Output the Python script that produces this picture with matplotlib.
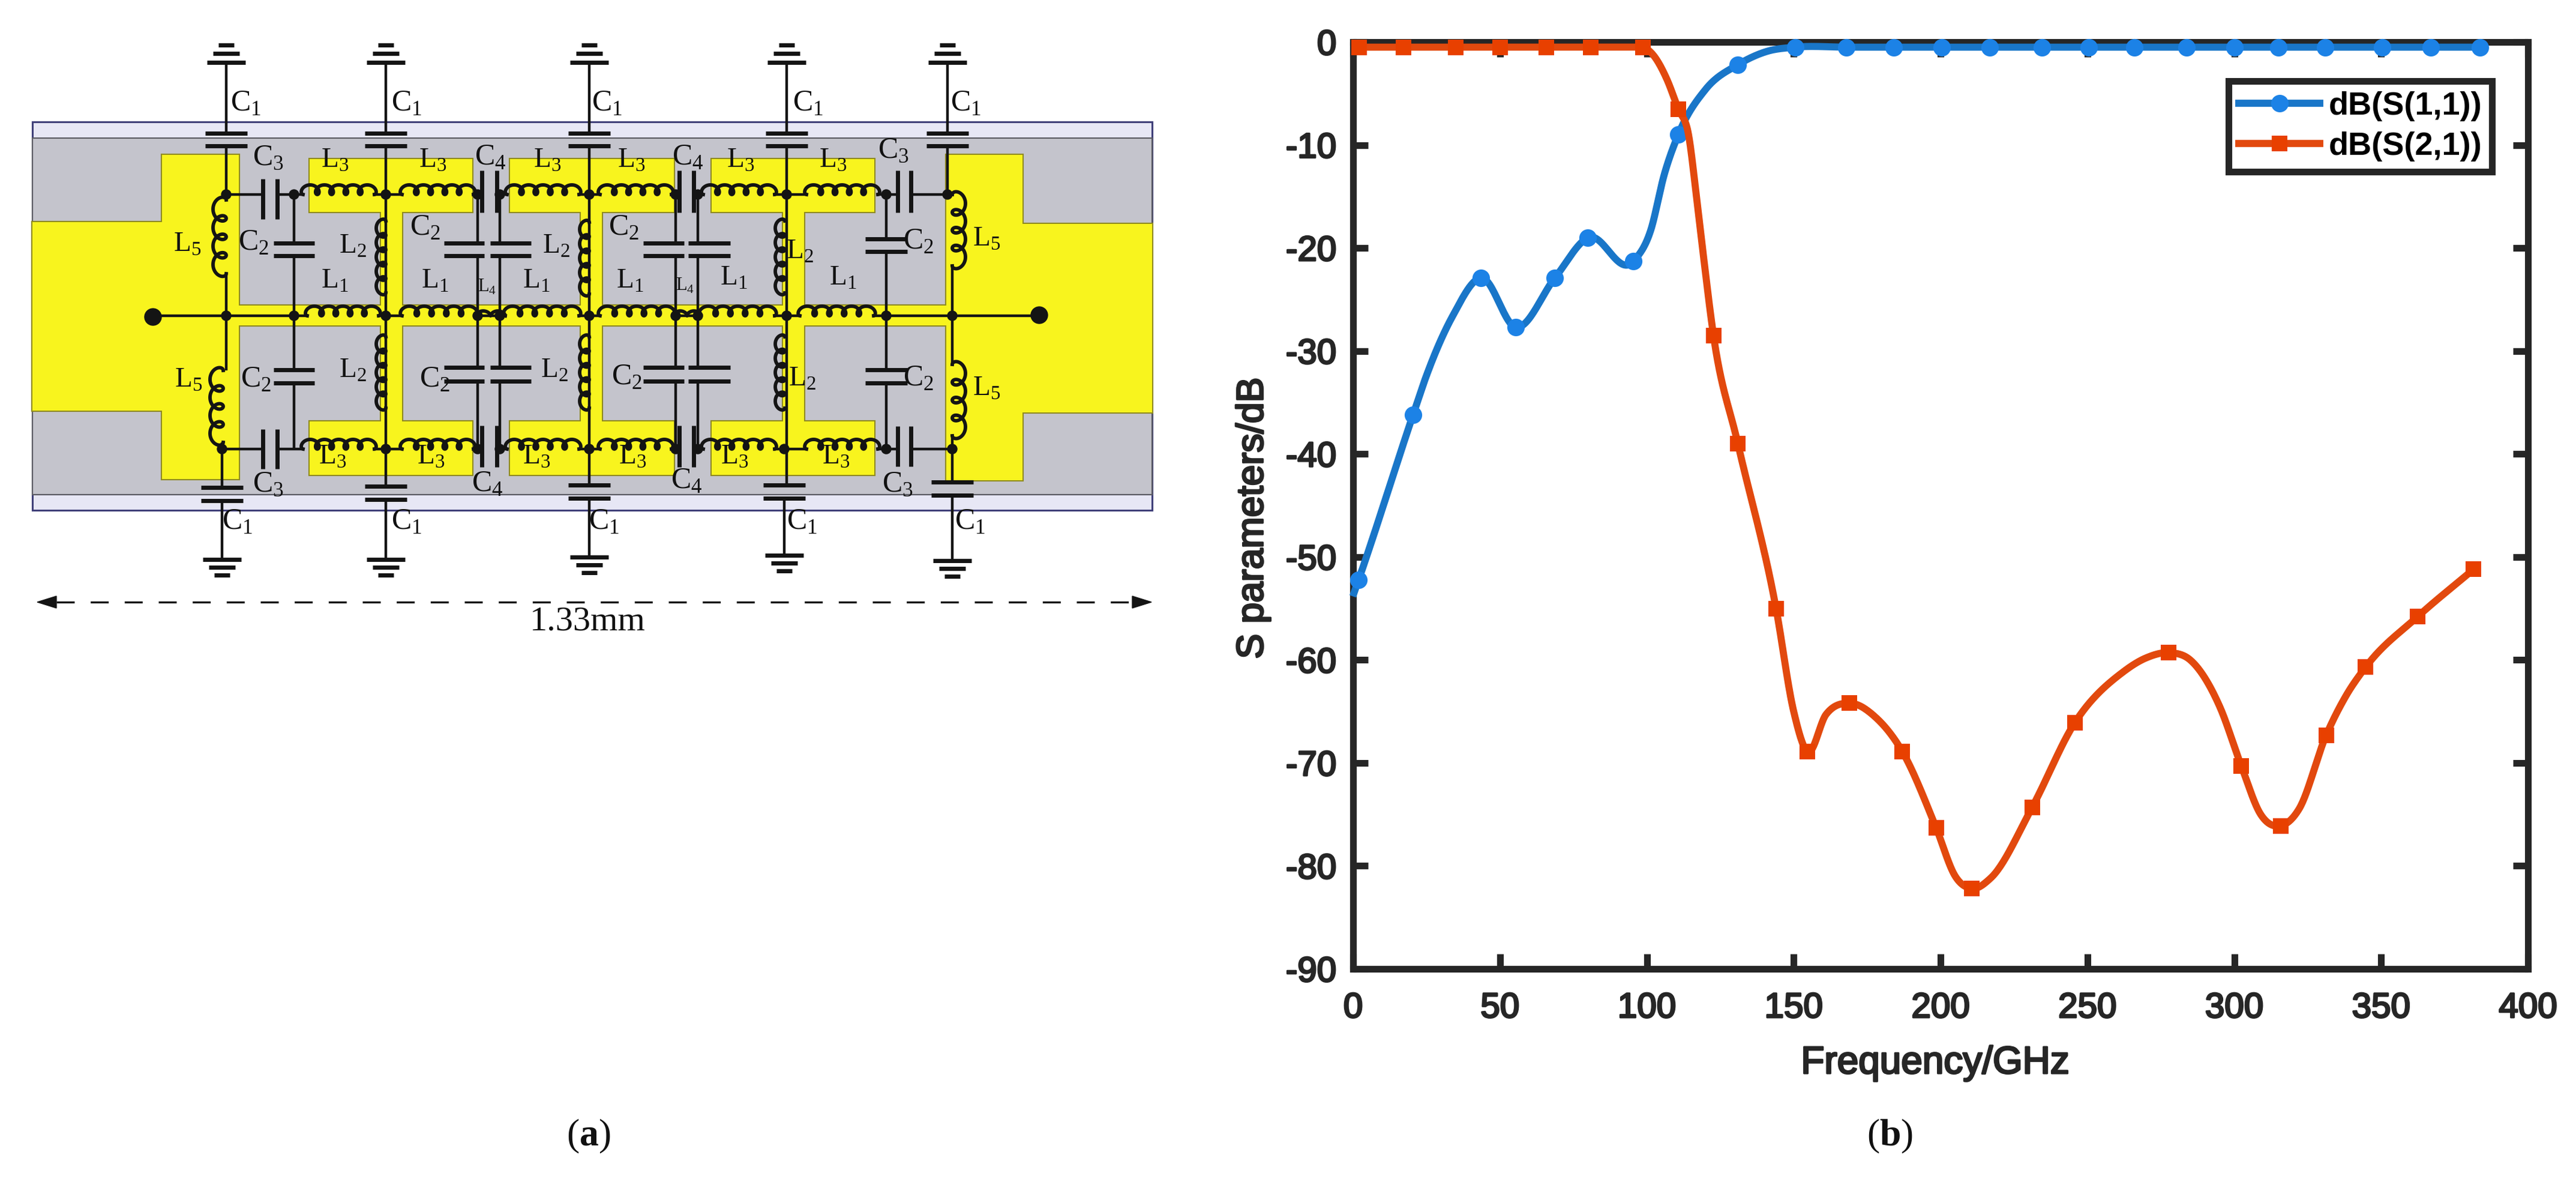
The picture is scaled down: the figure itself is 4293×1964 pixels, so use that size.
import numpy as np
import matplotlib
matplotlib.use('Agg')
import matplotlib.pyplot as plt
import matplotlib.patheffects as pe
from matplotlib.lines import Line2D
from matplotlib.patches import Rectangle, Polygon, Circle

plt.rcParams['font.family'] = ['Liberation Sans', 'DejaVu Sans']
plt.rcParams['mathtext.fontset'] = 'custom'
plt.rcParams['mathtext.rm'] = 'Liberation Serif'
plt.rcParams['mathtext.bf'] = 'Liberation Serif:bold'
plt.rcParams['axes.unicode_minus'] = False

# ---- panel (b) values ----
s11_f = [1.9, 20.4, 43.6, 55.4, 68.7, 79.9, 95.4, 110.7, 131, 150.5, 168, 184, 200.4, 216.8,
         234.6, 250.4, 266, 283.8, 300, 315, 331, 350.4, 367, 383.6]
s11_db = [-52.2, -36.2, -22.9, -27.7, -22.9, -19, -21.3, -9, -2.2, -0.5, -0.5, -0.5, -0.5, -0.5,
          -0.5, -0.5, -0.5, -0.5, -0.5, -0.5, -0.5, -0.5, -0.5, -0.5]
s11_extra_f = [0.3, 24.7, 33.9, 101.3, 106, 120, 141]
s11_extra_db = [-53.5, -32.6, -26.6, -18.3, -12.8, -4.6, -0.9]

s21_f = [2, 17.2, 34.9, 50, 65.7, 81, 98.7, 110.7, 122.7, 131, 144, 154.6, 169, 187, 198.5,
         210.7, 231.2, 245.7, 277.6, 302.4, 315.8, 331.3, 344.7, 362.4, 381.5]
s21_db = [-0.5, -0.5, -0.5, -0.5, -0.5, -0.5, -0.5, -6.5, -28.5, -39, -55, -68.9, -64.2, -68.9, -76.3,
          -82.2, -74.3, -66.1, -59.3, -70.3, -76.1, -67.3, -60.7, -55.8, -51.2]
s21_extra_f = [90, 96, 102, 106.8, 114.2, 116.9, 119.2, 150, 161, 178, 205, 217, 262, 270, 285, 295, 309, 322, 338]
s21_extra_db = [-0.5, -0.5, -1.2, -3.6, -9, -15, -20.6, -65, -65.3, -65.6, -81, -81.2, -61.2, -59.8, -60, -64.5,
                -75, -74.5, -63.5]

x_ticks = [0, 50, 100, 150, 200, 250, 300, 350, 400]
y_ticks = [0, -10, -20, -30, -40, -50, -60, -70, -80, -90]

# ---- panel (a) layout, picture pixels ----
yellow_rects = [(54, 370, 270, 684), (270, 258, 398, 798), (398, 509, 1577, 542),
                (516, 265, 787, 353), (516, 702, 787, 791), (635, 353, 670, 702),
                (850, 265, 1123, 353), (850, 702, 1123, 791), (968, 353, 1003, 702),
                (1186, 265, 1457, 353), (1186, 702, 1457, 791), (1305, 353, 1340, 702),
                (1577, 258, 1704, 800), (1704, 373, 1920, 687)]
top_cols = [377, 643, 982, 1311, 1579]
bot_cols = [370, 643, 982, 1307, 1587]
bot_plate = [812, 810, 808, 808, 803]
bot_ground = [932, 932, 928, 925, 934]
y_top, y_mid, y_bot = 324, 526, 748

# coils: x0, x1 on a horizontal run
top_coils = [(505, 624), (670, 789), (845, 965), (1000, 1119), (1172, 1291), (1344, 1463)]
mid_coils = [(512, 631), (670, 793), (842, 965), (1000, 1122), (1168, 1291), (1333, 1456)]
small_coils = [(793, 842), (1122, 1168)]
l2_coils = [(643, 368, 488), (643, 561, 680), (982, 370, 490), (982, 561, 680), (1308, 368, 488), (1308, 561, 680)]

# shunt C2: wire x, plate x0, plate x1, y plates top pair, y plates bottom pair
c2_list = [(490, 456, 524, 405, 426, 616, 638),
           (796, 740, 807, 405, 426, 612, 635), (833, 817, 885, 405, 426, 612, 635),
           (1126, 1072, 1140, 405, 426, 612, 635), (1163, 1147, 1217, 405, 426, 612, 635),
           (1477, 1442, 1512, 398, 419, 616, 638)]
# series caps: plate x left, plate x right, reach up and down on the top run, same on the bottom run
series_caps = [(438, 462, 26, 41, 33, 33), (803, 828, 40, 30, 39, 30), (1132, 1156, 40, 30, 39, 30),
               (1496, 1518, 40, 30, 38, 29)]

labels_c1 = [(410, 173), (678, 173), (1012, 173), (1347, 173), (1610, 173),
             (396, 870), (678, 870), (1007, 870), (1337, 870), (1617, 870)]
labels_c2 = [(423, 405), (709, 380), (1040, 380), (1531, 403), (427, 633), (725, 633), (1045, 629), (1531, 631)]
labels_c3 = [(447, 263), (447, 807), (1489, 251), (1496, 807)]
labels_c4 = [(817, 263), (812, 807), (1146, 263), (1144, 802)]
labels_l1 = [(558, 468), (725, 468), (894, 468), (1050, 468), (1223, 463), (1405, 463)]
labels_l2 = [(588, 410), (588, 617), (927, 410), (924, 617), (1333, 419), (1337, 631)]
labels_l3 = [(558, 267), (721, 267), (912, 267), (1052, 267), (1234, 267), (1388, 267),
             (554, 761), (718, 761), (894, 761), (1054, 761), (1224, 761), (1393, 761)]
labels_l4 = [(812, 478), (1142, 476)]
labels_l5 = [(312, 407), (314, 633), (1644, 398), (1644, 647)]

W, H = 4293, 1964
INK = '#141414'
fig = plt.figure(figsize=(W / 100, H / 100), dpi=100, facecolor='w')
sch = fig.add_axes([0, 0, 1, 1])
sch.set_xlim(0, W)
sch.set_ylim(H, 0)
sch.axis('off')


def wire(x0, y0, x1, y1, lw=3.2):
    sch.plot([x0, x1], [y0, y1], color=INK, lw=lw, solid_capstyle='butt', zorder=4)


def plate(x0, y0, x1, y1):
    sch.plot([x0, x1], [y0, y1], color=INK, lw=5, solid_capstyle='butt', zorder=5)


def coil(x0, y0, x1, y1, n, side=1, b=8):
    # trochoid, humps on one side, little loops on the other
    t = np.linspace(0, 2 * np.pi * n, 60 * n)
    length = np.hypot(x1 - x0, y1 - y0)
    a = length / (2 * np.pi * n)
    along = a * t - b * np.sin(t)
    off = (b - b * np.cos(t)) * side
    ux, uy = (x1 - x0) / length, (y1 - y0) / length
    sch.plot(x0 + along * ux - off * uy, y0 + along * uy + off * ux, color=INK, lw=4.2, zorder=5)


def node(x, y, r=8):
    sch.add_patch(Circle((x, y), r, color=INK, zorder=6))


def ground(x, ys):
    for y, half in zip(ys, [32, 22, 13]):
        plate(x - half, y, x + half, y)


def smooth(f, v, extra_f, extra_v):
    # cubic through the read points so the line bends like the original
    xs = np.array(list(f) + list(extra_f), dtype=float)
    ys = np.array(list(v) + list(extra_v), dtype=float)
    order = np.argsort(xs)
    xs, ys = xs[order], ys[order]
    m = np.gradient(ys, xs)
    out_x, out_y = [], []
    for i in range(len(xs) - 1):
        h = xs[i + 1] - xs[i]
        u = np.linspace(0, 1, 30)
        out_x += list(xs[i] + u * h)
        out_y += list((2 * u**3 - 3 * u**2 + 1) * ys[i] + (u**3 - 2 * u**2 + u) * h * m[i]
                      + (-2 * u**3 + 3 * u**2) * ys[i + 1] + (u**3 - u**2) * h * m[i + 1])
    return out_x, out_y


# board
sch.add_patch(Rectangle((54, 203), 1866, 647, fc='#E7E7F5', ec='#3E3E78', lw=2.2, zorder=1))
sch.add_patch(Rectangle((54, 230), 1866, 594, fc='#C4C4CC', ec='#5C5C64', lw=1.6, zorder=1))
for x0, y0, x1, y1 in yellow_rects:
    sch.add_patch(Rectangle((x0, y0), x1 - x0, y1 - y0, fc='#8F8A20', ec='#8F8A20', lw=3, zorder=2))
for x0, y0, x1, y1 in yellow_rects:
    sch.add_patch(Rectangle((x0, y0), x1 - x0, y1 - y0, fc='#F8F41E', ec='none', zorder=3))

# shunt C1 and ground
for x in top_cols:
    wire(x, 104, x, 221)
    plate(x - 35, 222, x + 35, 222)
    plate(x - 35, 243, x + 35, 243)
    ground(x, [104, 89, 75])
for x, py, gy in zip(bot_cols, bot_plate, bot_ground):
    plate(x - 35, py, x + 35, py)
    plate(x - 35, py + 22, x + 35, py + 22)
    wire(x, py + 22, x, gy)
    ground(x, [gy, gy + 13, gy + 26])

# inner columns run straight through
for x in top_cols[1:4]:
    wire(x, 243, x, 810)

# L5 branches
wire(377, 243, 377, 333)
coil(377, 333, 377, 456, 4, side=1, b=11)
wire(377, 456, 377, 617)
coil(372, 617, 372, 737, 4, side=1, b=11)
wire(370, 737, 370, 812)
wire(1579, 243, 1579, 324)
coil(1587, 324, 1587, 443, 4, side=-1, b=11)
wire(1587, 443, 1587, 607)
coil(1587, 607, 1587, 726, 4, side=-1, b=11)
wire(1587, 726, 1587, 803)

# main line and the top and bottom runs
for y, l, r, up_i in [(y_top, 377, 1579, 2), (y_bot, 370, 1587, 4)]:
    stops = sorted([v for c in top_coils for v in c] + [v for c in series_caps for v in c[:2]])
    pts = [l] + stops + [r]
    for a, b in zip(pts[::2], pts[1::2]):
        wire(a, y, b, y)
    for x0, x1 in top_coils:
        coil(x0, y, x1, y, 5, side=-1)
    for cap in series_caps:
        up, down = cap[up_i], cap[up_i + 1]
        plate(cap[0], y - up, cap[0], y + down)
        plate(cap[1], y - up, cap[1], y + down)
pts = [255] + sorted([v for c in mid_coils for v in c]) + [1732]
for a, b in zip(pts[::2], pts[1::2]):
    wire(a, y_mid, b, y_mid)
for x0, x1 in mid_coils:
    coil(x0, y_mid, x1, y_mid, 5, side=-1)
for x0, x1 in small_coils:
    coil(x0, y_mid, x1, y_mid, 2, side=-1, b=4)
for x, y0, y1 in l2_coils:
    coil(x, y0, x, y1, 5, side=1)

# shunt C2 pairs
for x, p0, p1, a0, a1, b0, b1 in c2_list:
    wire(x, y_top, x, a0)
    plate(p0, a0, p1, a0)
    plate(p0, a1, p1, a1)
    wire(x, a1, x, b0)
    plate(p0, b0, p1, b0)
    plate(p0, b1, p1, b1)
    wire(x, b1, x, y_bot)

for x in top_cols + [490, 796, 833, 1126, 1163, 1477]:
    node(x, y_top)
for x in [377, 490, 643, 796, 833, 982, 1126, 1163, 1311, 1477, 1587]:
    node(x, y_mid)
for x in bot_cols + [796, 833, 1126, 1163, 1477]:
    node(x, y_bot)
node(255, 528, 14)
node(1732, 525, 14)

serif = dict(family='Liberation Serif', color='#111111', ha='center', va='center', zorder=7)
label_groups = [('C', '1', labels_c1, 36), ('C', '2', labels_c2, 36), ('C', '3', labels_c3, 36),
                ('C', '4', labels_c4, 36), ('L', '1', labels_l1, 34), ('L', '2', labels_l2, 34),
                ('L', '3', labels_l3, 34), ('L', '4', labels_l4, 22), ('L', '5', labels_l5, 34)]
for name, sub, pts, size in label_groups:
    for x, y in pts:
        sch.text(x, y, name + '$_{' + sub + '}$', fontsize=size, **serif)

# dimension arrow
sch.plot([94, 1887], [1003, 1003], color=INK, lw=2.4, dashes=(9, 8), zorder=4)
sch.add_patch(Polygon([(62, 1003), (94, 993), (94, 1013)], color=INK, zorder=5))
sch.add_patch(Polygon([(1919, 1003), (1887, 993), (1887, 1013)], color=INK, zorder=5))
sch.text(979, 1035, '1.33mm', fontsize=42, **serif)
sch.text(981, 1893, r'($\mathbf{a}$)', fontsize=46, **serif)
sch.text(3150, 1893, r'($\mathbf{b}$)', fontsize=46, **serif)

# ---- panel (b) ----
L, R, T, B = 2255, 4213, 70, 1614
ax = fig.add_axes([L / W, 1 - B / H, (R - L) / W, (B - T) / H])
BLUE, BLUE_M = '#1976C8', '#1C82E6'
RED, RED_M = '#E2490E', '#E84000'

xs, ys = smooth(s11_f, s11_db, s11_extra_f, s11_extra_db)
ax.plot(xs, ys, color=BLUE, lw=8.5, clip_on=False, zorder=3)
ax.plot(s11_f, s11_db, 'o', color=BLUE_M, ms=21, mew=0, clip_on=False, zorder=4)
xs, ys = smooth(s21_f, s21_db, s21_extra_f, s21_extra_db)
ax.plot(xs, ys, color=RED, lw=8.5, clip_on=False, zorder=5)
ax.plot(s21_f, s21_db, 's', color=RED_M, ms=18.5, mew=0, clip_on=False, zorder=6)

ax.set_xlim(0, 400)
ax.set_ylim(-90, 0)
ax.set_xticks(x_ticks)
ax.set_yticks(y_ticks)
SPINE = '#262626'
for s in ax.spines.values():
    s.set_linewidth(8)
    s.set_color(SPINE)
ax.tick_params(axis='both', which='major', direction='in', top=True, right=True, length=18, width=8,
               color=SPINE, labelcolor=SPINE, labelsize=42)
ax.tick_params(axis='x', pad=28)
ax.tick_params(axis='y', pad=20)
thick = [pe.withStroke(linewidth=2.2, foreground=SPINE)]
for t in ax.get_xticklabels() + ax.get_yticklabels():
    t.set_path_effects(thick)

sch.text(3225, 1771, 'Frequency/GHz', fontsize=46, color=SPINE, ha='center', va='center', path_effects=thick)
sch.text(2088, 863, 'S parameters/dB', fontsize=45, color=SPINE, ha='center', va='center', rotation=90,
         path_effects=thick)

handles = [Line2D([], [], color=BLUE, lw=8.5, marker='o', ms=21, mfc=BLUE_M, mew=0),
           Line2D([], [], color=RED, lw=8.5, marker='s', ms=18.5, mfc=RED_M, mew=0)]
leg = ax.legend(handles, ['dB(S(1,1))', 'dB(S(2,1))'], loc='center',
                bbox_to_anchor=((3714 + 4153) / 2 / W, 1 - (131 + 290) / 2 / H), bbox_transform=fig.transFigure,
                prop=dict(family='Liberation Sans', weight='bold', size=39), frameon=True, fancybox=False,
                edgecolor=SPINE, framealpha=1, handlelength=2.5, handletextpad=0.26, labelspacing=0.3,
                borderpad=0.32, borderaxespad=0)
leg.get_frame().set_linewidth(8)
leg.set_zorder(10)

fig.savefig('out.png', dpi=100, facecolor='w')
